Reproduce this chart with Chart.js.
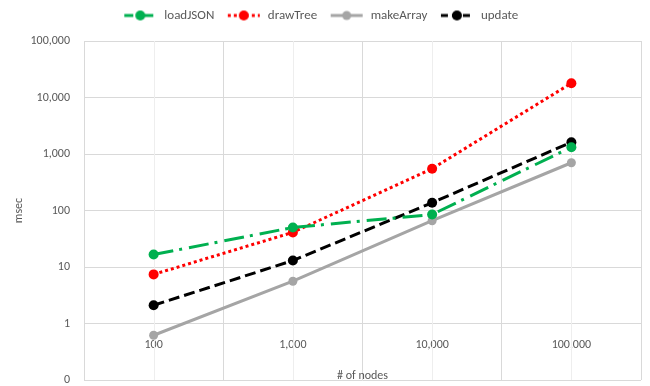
<!DOCTYPE html>
<html>
<head>
<meta charset="utf-8">
<script src="https://cdn.jsdelivr.net/npm/chart.js@4/dist/chart.umd.min.js"></script>
<style>
  html, body { margin: 0; padding: 0; background: #ffffff; }
  #wrap { width: 650px; height: 386px; }
</style>
</head>
<body>
<div id="wrap"><canvas id="c" width="650" height="386"></canvas></div>
<script>
// ---- data ----
const categories = ['100', '1,000', '10,000', '100,000'];
const loadJSON  = [16.6, 50, 85, 1320];
const drawTree  = [7.4, 41, 550, 17900];
const makeArray = [0.62, 5.6, 66, 700];
const update    = [2.1, 13, 137, 1620];
const yTicks = [0.1, 1, 10, 100, 1000, 10000, 100000];
const xTitle = '# of nodes';
const yTitle = 'msec';

const FONT = 'Carlito, Calibri, Lato, "Liberation Sans", sans-serif';
const TEXT = '#595959';
const GRID = '#d9d9d9';
const MINOR = '#eeeeee';

const series = [
  { label: 'loadJSON',  data: loadJSON,  color: '#00b050', dash: [20, 6, 3, 7], width: 3, r: 5 },
  { label: 'drawTree',  data: drawTree,  color: '#ff0000', dash: [3, 3],        width: 3, r: 5 },
  { label: 'makeArray', data: makeArray, color: '#a5a5a5', dash: [],            width: 3, r: 4.5 },
  { label: 'update',    data: update,    color: '#000000', dash: [11, 5],       width: 3, r: 5 }
];
const legendDash = [[9, 4, 3, 4], [3, 3], [], [7, 4]];

function legendIcon(s, i) {
  const cv = document.createElement('canvas');
  cv.width = 34; cv.height = 12;
  const g = cv.getContext('2d');
  g.strokeStyle = s.color; g.lineWidth = s.width; g.setLineDash(legendDash[i]);
  g.beginPath(); g.moveTo(1, 6); g.lineTo(33, 6); g.stroke();
  g.setLineDash([]);
  g.fillStyle = s.color;
  g.beginPath(); g.arc(17, 6, s.r, 0, Math.PI * 2); g.fill();
  return cv;
}
const icons = series.map(legendIcon);

const minorGrid = {
  id: 'minorGrid',
  afterLayout(chart) {
    const lg = chart.legend;
    if (lg) { lg.top -= 9; lg.bottom -= 9; }
  },
  beforeDatasetsDraw(chart) {
    const { ctx, chartArea, scales } = chart;
    ctx.save();
    ctx.strokeStyle = MINOR; ctx.lineWidth = 1;
    categories.forEach((c, i) => {
      const x = Math.round(scales.x.getPixelForValue(i)) + 0.5;
      ctx.beginPath(); ctx.moveTo(x, chartArea.top); ctx.lineTo(x, chartArea.bottom); ctx.stroke();
    });
    ctx.restore();
  },
  afterDraw(chart) {
    const { ctx, chartArea } = chart;
    ctx.save();
    ctx.fillStyle = TEXT;
    ctx.font = '12px ' + FONT;
    ctx.textAlign = 'center';
    ctx.textBaseline = 'middle';
    ctx.fillText(xTitle, (chartArea.left + chartArea.right) / 2, chartArea.bottom - 4);
    ctx.restore();
  }
};

new Chart(document.getElementById('c'), {
  type: 'line',
  data: {
    labels: categories,
    datasets: series.map(s => ({
      label: s.label,
      data: s.data,
      borderColor: s.color,
      backgroundColor: s.color,
      borderWidth: s.width,
      borderDash: s.dash,
      pointRadius: s.r,
      pointHoverRadius: s.r,
      pointBorderWidth: 0,
      pointBackgroundColor: s.color,
      tension: 0,
      fill: false
    }))
  },
  options: {
    responsive: false,
    animation: false,
    devicePixelRatio: 1,
    layout: { padding: { left: 0, right: 9, top: -4, bottom: 6 } },
    plugins: {
      legend: {
        position: 'top',
        labels: {
          usePointStyle: true,
          pointStyleWidth: 35,
          padding: 12,
          color: TEXT,
          font: { family: FONT, size: 13 },
          generateLabels(chart) {
            const items = Chart.defaults.plugins.legend.labels.generateLabels(chart);
            items.forEach((it, i) => { it.pointStyle = icons[i]; it.fontColor = TEXT; });
            return items;
          }
        }
      },
      tooltip: { enabled: false }
    },
    scales: {
      x: {
        type: 'category',
        position: { y: 1 },
        offset: true,
        afterFit(scale) { scale.height = 0; },
        grid: { offset: true, color: GRID, drawTicks: false },
        border: { display: false },
        ticks: { color: TEXT, font: { family: FONT, size: 12 }, padding: 14, maxRotation: 0 }
      },
      y: {
        type: 'logarithmic',
        min: 0.1,
        max: 100000,
        afterBuildTicks(scale) { scale.ticks = yTicks.map(v => ({ value: v, major: true })); },
        afterFit(scale) { scale.width = 84; scale.paddingTop = 41; scale.paddingBottom = 0; },
        grid: { color: GRID, drawTicks: false },
        border: { display: false },
        ticks: {
          color: TEXT,
          font: { family: FONT, size: 12 },
          padding: 14,
          callback(v) { return v < 1 ? '0' : Number(v).toLocaleString('en-US'); }
        },
        title: { display: true, text: yTitle, color: TEXT, font: { family: FONT, size: 12 }, padding: { top: 12, bottom: 0 } }
      }
    }
  },
  plugins: [minorGrid]
});
</script>
</body>
</html>
